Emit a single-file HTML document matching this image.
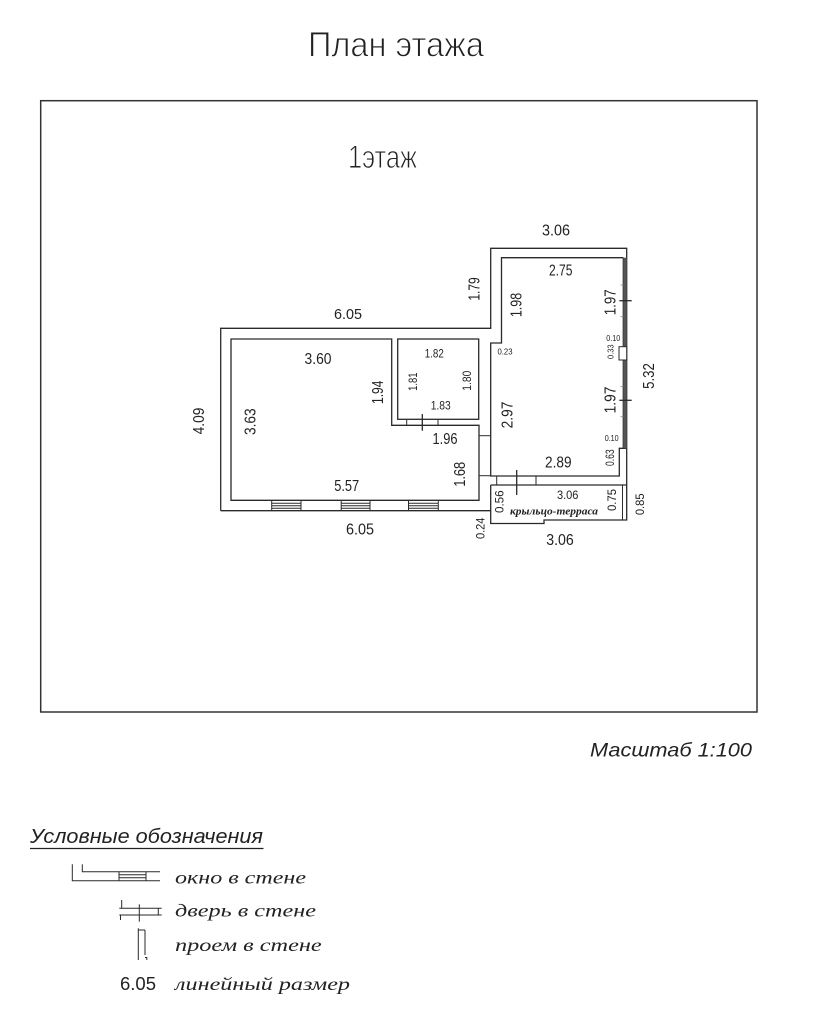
<!DOCTYPE html>
<html><head><meta charset="utf-8"><style>
html,body{margin:0;padding:0;background:#fff;}
svg{display:block;}
.d{font-family:"Liberation Sans","DejaVu Sans",sans-serif;fill:#222;}
.ln{stroke:#2a2a2a;stroke-width:1.3;fill:none;}
.lt{stroke:#2a2a2a;stroke-width:1;fill:none;}
.it{font-family:"Liberation Serif","DejaVu Serif",serif;font-style:italic;fill:#222;}
.is{font-family:"Liberation Sans","DejaVu Sans",sans-serif;font-style:italic;fill:#222;}
.thin{stroke:#fff;stroke-width:0.9;paint-order:normal;}
</style></head><body>
<svg width="828" height="1036" viewBox="0 0 828 1036" xmlns="http://www.w3.org/2000/svg">
<rect width="828" height="1036" fill="#fff"/>
<!-- title -->
<text class="d thin" x="396" y="56.7" font-size="35" text-anchor="middle" textLength="176" lengthAdjust="spacingAndGlyphs">План этажа</text>
<!-- frame -->
<rect x="40.7" y="100.7" width="716.3" height="611.3" fill="none" stroke="#333" stroke-width="1.5"/>
<text class="d thin" x="382.5" y="168" font-size="32" text-anchor="middle" textLength="69" lengthAdjust="spacingAndGlyphs">1этаж</text>

<!-- walls -->
<polyline class="ln" points="220.7,510.7 220.7,328.3 490.7,328.3 490.7,248.3 626.7,248.3 626.7,520 544,520 544,523.5 490.7,523.5 490.7,485"/>
<line class="ln" x1="220.7" y1="510.7" x2="490.7" y2="510.7"/>
<polygon class="ln" points="231,339 391.7,339 391.7,425.3 479,425.3 479,500.3 231,500.3"/>
<rect class="ln" x="397.7" y="339" width="81" height="80.3"/>
<polyline class="ln" points="623.3,257.7 501.5,257.7 501.5,343 490.7,343 490.7,476 619.3,476 619.3,448.3 626.7,448.3"/>
<line class="ln" x1="623.3" y1="257.7" x2="623.3" y2="448.3"/>
<rect x="623.3" y="257.7" width="3.4" height="190.6" fill="#555"/>
<!-- crossbars between rooms -->
<line class="lt" x1="479" y1="435.7" x2="490.7" y2="435.7"/>
<line class="lt" x1="479" y1="475.7" x2="490.7" y2="475.7"/>
<!-- small room door -->
<line class="lt" x1="406.7" y1="419.3" x2="406.7" y2="425.3"/>
<line class="lt" x1="438" y1="419.3" x2="438" y2="425.3"/>
<line class="ln" x1="422.3" y1="414" x2="422.3" y2="430.7"/>
<!-- windows -->
<g class="lt">
<path d="M271.7,500.3V510.7M301,500.3V510.7M271.7,503.3H301M271.7,505.8H301M271.7,508.3H301"/>
<path d="M341.2,500.3V510.7M370,500.3V510.7M341.2,503.3H370M341.2,505.8H370M341.2,508.3H370"/>
<path d="M408.5,500.3V510.7M438.3,500.3V510.7M408.5,503.3H438.3M408.5,505.8H438.3M408.5,508.3H438.3"/>
</g>
<!-- right wall ticks / opening -->
<line class="ln" x1="619.3" y1="300.7" x2="631.7" y2="300.7"/>
<line class="ln" x1="619.3" y1="400.3" x2="631.7" y2="400.3"/>
<rect x="619" y="346.7" width="7.7" height="13.3" fill="#fff" stroke="#2a2a2a" stroke-width="1"/>
<g stroke="#888" stroke-width="0.8">
<line x1="620.5" y1="285" x2="623.3" y2="285"/>
<line x1="620.5" y1="316.7" x2="623.3" y2="316.7"/>
<line x1="620.5" y1="386.7" x2="623.3" y2="386.7"/>
<line x1="620.5" y1="416.7" x2="623.3" y2="416.7"/>
</g>
<!-- terrace -->
<line class="ln" x1="490.7" y1="485" x2="626.7" y2="485"/>
<line class="lt" x1="622.5" y1="485" x2="622.5" y2="520"/>
<line class="lt" x1="496.7" y1="476" x2="496.7" y2="485"/>
<line class="lt" x1="536" y1="476" x2="536" y2="485"/>
<line class="ln" x1="516.7" y1="470" x2="516.7" y2="495"/>

<!-- horizontal dims -->
<g class="d" text-anchor="middle">
<text x="348" y="319" font-size="15" textLength="28" lengthAdjust="spacingAndGlyphs">6.05</text>
<text x="318" y="364" font-size="15.5" textLength="27" lengthAdjust="spacingAndGlyphs">3.60</text>
<text x="434.3" y="357.7" font-size="11.5" textLength="19" lengthAdjust="spacingAndGlyphs">1.82</text>
<text x="440.7" y="409.3" font-size="11.5" textLength="20" lengthAdjust="spacingAndGlyphs">1.83</text>
<text x="445" y="444" font-size="15.5" textLength="25" lengthAdjust="spacingAndGlyphs">1.96</text>
<text x="346.7" y="491" font-size="16" textLength="25" lengthAdjust="spacingAndGlyphs">5.57</text>
<text x="360" y="534.3" font-size="15.5" textLength="28" lengthAdjust="spacingAndGlyphs">6.05</text>
<text x="556" y="235.7" font-size="15.5" textLength="28" lengthAdjust="spacingAndGlyphs">3.06</text>
<text x="560.7" y="275.7" font-size="15.5" textLength="23.5" lengthAdjust="spacingAndGlyphs">2.75</text>
<text x="558.3" y="467.3" font-size="16" textLength="26.5" lengthAdjust="spacingAndGlyphs">2.89</text>
<text x="567.7" y="499" font-size="11.5" textLength="21.5" lengthAdjust="spacingAndGlyphs">3.06</text>
<text x="560" y="545" font-size="15.5" textLength="27.5" lengthAdjust="spacingAndGlyphs">3.06</text>
<text x="613.3" y="341" font-size="8.5" textLength="14" lengthAdjust="spacingAndGlyphs">0.10</text>
<text x="611.7" y="441" font-size="8.5" textLength="14" lengthAdjust="spacingAndGlyphs">0.10</text>
<text x="505" y="354.5" font-size="8.5" textLength="15" lengthAdjust="spacingAndGlyphs">0.23</text>
</g>
<!-- vertical dims -->
<g class="d" text-anchor="middle">
<text transform="translate(198.3,421) rotate(-90)" x="0" y="5.6" font-size="15.5" textLength="26.7" lengthAdjust="spacingAndGlyphs">4.09</text>
<text transform="translate(250,421.7) rotate(-90)" x="0" y="5.6" font-size="15.5" textLength="26.7" lengthAdjust="spacingAndGlyphs">3.63</text>
<text transform="translate(377.3,392.3) rotate(-90)" x="0" y="5.7" font-size="16" textLength="23.3" lengthAdjust="spacingAndGlyphs">1.94</text>
<text transform="translate(412.7,381.7) rotate(-90)" x="0" y="4.1" font-size="11.5" textLength="18.3" lengthAdjust="spacingAndGlyphs">1.81</text>
<text transform="translate(466.7,380.7) rotate(-90)" x="0" y="4.1" font-size="11.5" textLength="20" lengthAdjust="spacingAndGlyphs">1.80</text>
<text transform="translate(459.3,474.3) rotate(-90)" x="0" y="5.7" font-size="16" textLength="25" lengthAdjust="spacingAndGlyphs">1.68</text>
<text transform="translate(480,528.3) rotate(-90)" x="0" y="4.3" font-size="12" textLength="21.5" lengthAdjust="spacingAndGlyphs">0.24</text>
<text transform="translate(474,289) rotate(-90)" x="0" y="5.6" font-size="15.5" textLength="23.3" lengthAdjust="spacingAndGlyphs">1.79</text>
<text transform="translate(516,305) rotate(-90)" x="0" y="5.6" font-size="15.5" textLength="24.3" lengthAdjust="spacingAndGlyphs">1.98</text>
<text transform="translate(610,302.3) rotate(-90)" x="0" y="5.6" font-size="15.5" textLength="26" lengthAdjust="spacingAndGlyphs">1.97</text>
<text transform="translate(610.7,351.7) rotate(-90)" x="0" y="3" font-size="8.5" textLength="14.5" lengthAdjust="spacingAndGlyphs">0.33</text>
<text transform="translate(648.3,376) rotate(-90)" x="0" y="5.6" font-size="15.5" textLength="25.7" lengthAdjust="spacingAndGlyphs">5.32</text>
<text transform="translate(506.7,415) rotate(-90)" x="0" y="5.6" font-size="15.5" textLength="26.7" lengthAdjust="spacingAndGlyphs">2.97</text>
<text transform="translate(610,400) rotate(-90)" x="0" y="5.6" font-size="15.5" textLength="26.7" lengthAdjust="spacingAndGlyphs">1.97</text>
<text transform="translate(610,457.7) rotate(-90)" x="0" y="4.1" font-size="11.5" textLength="16.7" lengthAdjust="spacingAndGlyphs">0.63</text>
<text transform="translate(499.3,501.7) rotate(-90)" x="0" y="4.1" font-size="11.5" textLength="22.7" lengthAdjust="spacingAndGlyphs">0.56</text>
<text transform="translate(611.7,500) rotate(-90)" x="0" y="4.1" font-size="11.5" textLength="22" lengthAdjust="spacingAndGlyphs">0.75</text>
<text transform="translate(640,504.3) rotate(-90)" x="0" y="4.1" font-size="11.5" textLength="21.7" lengthAdjust="spacingAndGlyphs">0.85</text>
</g>
<text class="it" x="554" y="514.5" font-size="11" font-weight="bold" text-anchor="middle" textLength="88" lengthAdjust="spacingAndGlyphs">крыльцо-терраса</text>

<!-- scale -->
<text class="is" x="590" y="756.7" font-size="19.5" textLength="162" lengthAdjust="spacingAndGlyphs">Масштаб 1:100</text>

<!-- legend -->
<text class="is" x="30" y="843" font-size="20" textLength="233" lengthAdjust="spacingAndGlyphs">Условные обозначения</text>
<line x1="30" y1="848.5" x2="263.5" y2="848.5" stroke="#222" stroke-width="1.3"/>

<g class="lt">
<polyline points="72.3,864.3 72.3,880.7 160,880.7"/>
<polyline points="82.3,864.3 82.3,871.7 160,871.7"/>
<path d="M119,871.7V880.7M146,871.7V880.7M119,874.7H146M119,877.7H146"/>
<path d="M119.3,908.3H161.7M119.3,915H161.7M121.7,900V908.3M120.5,915V920M158.3,908.3V915"/>
<line x1="139.3" y1="904.3" x2="139.3" y2="921.7"/>
<path d="M138.3,928.3V960M145,930V955M138.3,930H145M145,957.5h1.8v2.5"/>
</g>

<text class="it" x="175" y="883.5" font-size="18" textLength="131" lengthAdjust="spacingAndGlyphs">окно в стене</text>
<text class="it" x="175" y="916.7" font-size="18" textLength="141" lengthAdjust="spacingAndGlyphs">дверь в стене</text>
<text class="it" x="175" y="951" font-size="18" textLength="146.7" lengthAdjust="spacingAndGlyphs">проем в стене</text>
<text class="d" x="120" y="990" font-size="18" textLength="36" lengthAdjust="spacingAndGlyphs">6.05</text>
<text class="it" x="175" y="990" font-size="18" textLength="175" lengthAdjust="spacingAndGlyphs">линейный размер</text>
</svg>
</body></html>
